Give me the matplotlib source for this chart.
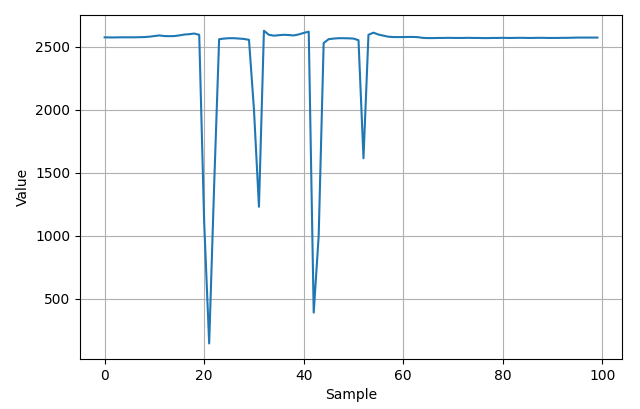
import numpy as np
import matplotlib
matplotlib.use("Agg")
import matplotlib.pyplot as plt

# sample readings
values = [
    2575, 2574, 2574, 2575, 2575, 2575, 2575, 2576, 2577, 2580,
    2585, 2590, 2585, 2584, 2585, 2590, 2597, 2600, 2605, 2595,
    1100, 145, 1400, 2560, 2565, 2568, 2568, 2565, 2562, 2555,
    2000, 1230, 2627, 2595, 2588, 2592, 2595, 2593, 2590, 2598,
    2610, 2620, 390, 1000, 2530, 2560, 2565, 2568, 2568, 2567,
    2565, 2552, 1615, 2595, 2612, 2597, 2588, 2580, 2577, 2577,
    2577, 2578, 2578, 2576, 2570, 2569, 2569, 2570, 2570, 2571,
    2570, 2570, 2570, 2571, 2570, 2570, 2569, 2569, 2570, 2570,
    2571, 2570, 2570, 2571, 2571, 2570, 2570, 2571, 2571, 2570,
    2570, 2570, 2571, 2571, 2572, 2573, 2573, 2573, 2573, 2573,
]
samples = np.arange(len(values))

fig, ax = plt.subplots(figsize=(6.4, 4.09), dpi=100)
ax.plot(samples, values, color="#1f77b4", linewidth=1.5)
ax.set_xlabel("Sample")
ax.set_ylabel("Value")
ax.grid(True)
fig.subplots_adjust(left=0.125, right=0.972, bottom=0.122, top=0.963)
fig.savefig("out.png", dpi=100)
